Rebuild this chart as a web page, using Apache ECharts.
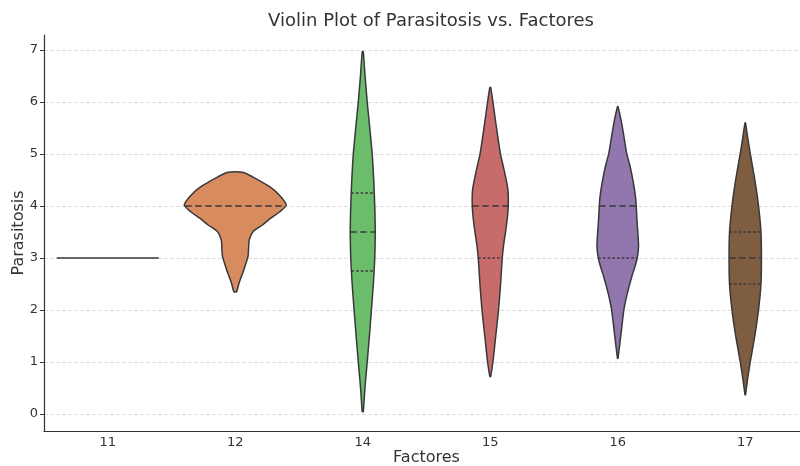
<!DOCTYPE html>
<html>
<head>
<meta charset="utf-8">
<script src="https://cdn.jsdelivr.net/npm/echarts@6/dist/echarts.min.js"></script>
<style>
html,body{margin:0;padding:0;background:#fff;}
#chart{width:800px;height:466px;}
</style>
</head>
<body>
<div id="chart"></div>
<script>
const categories = ['11', '12', '14', '15', '16', '17'];
const yTicks = [0, 1, 2, 3, 4, 5, 6, 7];
const fillColors = ['#5a82b8', '#d88b5e', '#6cbd6b', '#c86b6b', '#9277ae', '#7e5d40'];

// Density outline per category: y levels and half-widths (in category units)
const levels11 = [3];
const widths11 = [0.4];
const levels12 = [2.35, 2.52, 2.77, 3.03, 3.2, 3.35, 3.51, 3.63, 3.76, 3.89, 4.02, 4.21, 4.37, 4.56, 4.65];
const widths12 = [0.01, 0.03, 0.067, 0.10, 0.105, 0.11, 0.14, 0.21, 0.275, 0.35, 0.40, 0.345, 0.27, 0.136, 0.059];
const levels14 = [0.045, 0.5, 1.0, 1.5, 2.0, 2.5, 3.0, 3.5, 4.0, 4.5, 5.0, 5.5, 6.0, 6.5, 6.97];
const widths14 = [0.004, 0.017, 0.035, 0.052, 0.068, 0.083, 0.094, 0.098, 0.094, 0.086, 0.074, 0.055, 0.035, 0.018, 0.004];
const levels15 = [0.72, 1.0, 1.5, 2.0, 2.5, 3.0, 3.25, 3.5, 3.75, 4.0, 4.3, 4.6, 5.0, 5.5, 6.0, 6.28];
const widths15 = [0.003, 0.021, 0.043, 0.065, 0.081, 0.094, 0.105, 0.12, 0.133, 0.141, 0.139, 0.117, 0.08, 0.049, 0.021, 0.003];
const levels16 = [1.07, 1.55, 2.0, 2.3, 2.64, 2.85, 3.0, 3.22, 3.47, 3.75, 4.0, 4.2, 4.44, 4.76, 5.01, 5.4, 5.65, 5.91];
const widths16 = [0.002, 0.026, 0.048, 0.073, 0.11, 0.137, 0.153, 0.163, 0.158, 0.15, 0.145, 0.138, 0.123, 0.097, 0.07, 0.044, 0.026, 0.002];
const levels17 = [0.37, 0.7, 1.0, 1.5, 2.0, 2.49, 3.0, 3.51, 4.0, 4.5, 5.01, 5.3, 5.6];
const widths17 = [0.002, 0.02, 0.039, 0.075, 0.104, 0.123, 0.127, 0.123, 0.104, 0.075, 0.039, 0.02, 0.002];

// Quartiles [Q1, median, Q3]
const quart11 = null;
const quart12 = [4, 4, 4];
const quart14 = [2.75, 3.5, 4.25];
const quart15 = [3, 4, 4];
const quart16 = [3, 4, 4];
const quart17 = [2.5, 3, 3.5];

const profiles = [
  { levels: levels11, widths: widths11, q: quart11 },
  { levels: levels12, widths: widths12, q: quart12 },
  { levels: levels14, widths: widths14, q: quart14 },
  { levels: levels15, widths: widths15, q: quart15 },
  { levels: levels16, widths: widths16, q: quart16 },
  { levels: levels17, widths: widths17, q: quart17 }
];

const edge = '#383838';
const font = 'DejaVu Sans';

function widthAt(p, y) {
  const L = p.levels, W = p.widths;
  if (y <= L[0]) return W[0];
  for (let i = 1; i < L.length; i++) {
    if (y <= L[i]) {
      const t = (y - L[i - 1]) / (L[i] - L[i - 1]);
      return W[i - 1] + t * (W[i] - W[i - 1]);
    }
  }
  return W[W.length - 1];
}

function renderItem(params, api) {
  const idx = params.dataIndex;
  const p = profiles[idx];
  const band = api.size([1, 0])[0];
  const cx = api.coord([idx, 0])[0];
  const children = [];
  if (p.levels.length === 1) {
    const y = api.coord([idx, p.levels[0]])[1];
    children.push({
      type: 'line',
      shape: { x1: cx - p.widths[0] * band, y1: y, x2: cx + p.widths[0] * band, y2: y },
      style: { stroke: edge, lineWidth: 1.5 }
    });
    return { type: 'group', children };
  }
  const left = [], right = [];
  for (let i = 0; i < p.levels.length; i++) {
    const y = api.coord([idx, p.levels[i]])[1];
    left.push([cx - p.widths[i] * band, y]);
    right.unshift([cx + p.widths[i] * band, y]);
  }
  children.push({
    type: 'polygon',
    shape: { points: left.concat(right), smooth: 0.2 },
    style: { fill: fillColors[idx], stroke: edge, lineWidth: 1.5, lineJoin: 'round' }
  });
  if (p.q) {
    const [q1, med, q3] = p.q;
    [q1, q3].forEach(function (v) {
      if (v === med) return;
      const y = api.coord([idx, v])[1];
      const w = widthAt(p, v) * band;
      children.push({
        type: 'line',
        shape: { x1: cx - w, y1: y, x2: cx + w, y2: y },
        style: { stroke: edge, lineWidth: 1.5, lineDash: [2.5, 2.2] }
      });
    });
    const y = api.coord([idx, med])[1];
    const w = widthAt(p, med) * band;
    children.push({
      type: 'line',
      shape: { x1: cx - w, y1: y, x2: cx + w, y2: y },
      style: { stroke: edge, lineWidth: 1.5, lineDash: [6.5, 3.5] }
    });
  }
  return { type: 'group', children };
}

const chart = echarts.init(document.getElementById('chart'), null, { renderer: 'canvas' });
chart.setOption({
  backgroundColor: '#ffffff',
  animation: false,
  title: {
    text: 'Violin Plot of Parasitosis vs. Factores',
    left: 426, top: 7, textAlign: 'center',
    textStyle: { fontFamily: font, fontSize: 18, fontWeight: 'normal', color: '#333333' }
  },
  grid: { left: 44, right: -9, top: 35, bottom: 35, containLabel: false, outerBoundsMode: 'none' },
  xAxis: {
    type: 'category',
    data: categories,
    boundaryGap: true,
    name: 'Factores',
    nameLocation: 'middle',
    nameGap: 19,
    nameMoveOverlap: false,
    nameTextStyle: { fontFamily: font, fontSize: 16, color: '#333333' },
    axisLine: { onZero: false, lineStyle: { color: '#333333', width: 1.2 } },
    axisTick: { alignWithLabel: true, length: 4, lineStyle: { color: '#333333' } },
    axisLabel: { fontFamily: font, fontSize: 13, color: '#333333', margin: 5 },
    splitLine: { show: false }
  },
  yAxis: {
    type: 'value',
    min: -0.327,
    max: 7.288,
    name: 'Parasitosis',
    nameLocation: 'middle',
    nameGap: 17,
    nameMoveOverlap: false,
    nameTextStyle: { fontFamily: font, fontSize: 16, color: '#333333' },
    axisLine: { show: true, lineStyle: { color: '#333333', width: 1.2 } },
    axisTick: { show: true, length: 4, customValues: yTicks, lineStyle: { color: '#333333' } },
    axisLabel: { fontFamily: font, fontSize: 13, color: '#333333', margin: 6, customValues: yTicks, showMinLabel: true, showMaxLabel: true },
    splitLine: { show: true, customValues: yTicks, lineStyle: { color: '#d5d5d5', type: [4, 2], width: 0.8 } }
  },
  series: [{
    type: 'custom',
    renderItem: renderItem,
    clip: false,
    data: categories.map(function (c, i) { return [i, 0]; }),
    encode: { x: 0, y: 1 }
  }]
});
</script>
</body>
</html>
